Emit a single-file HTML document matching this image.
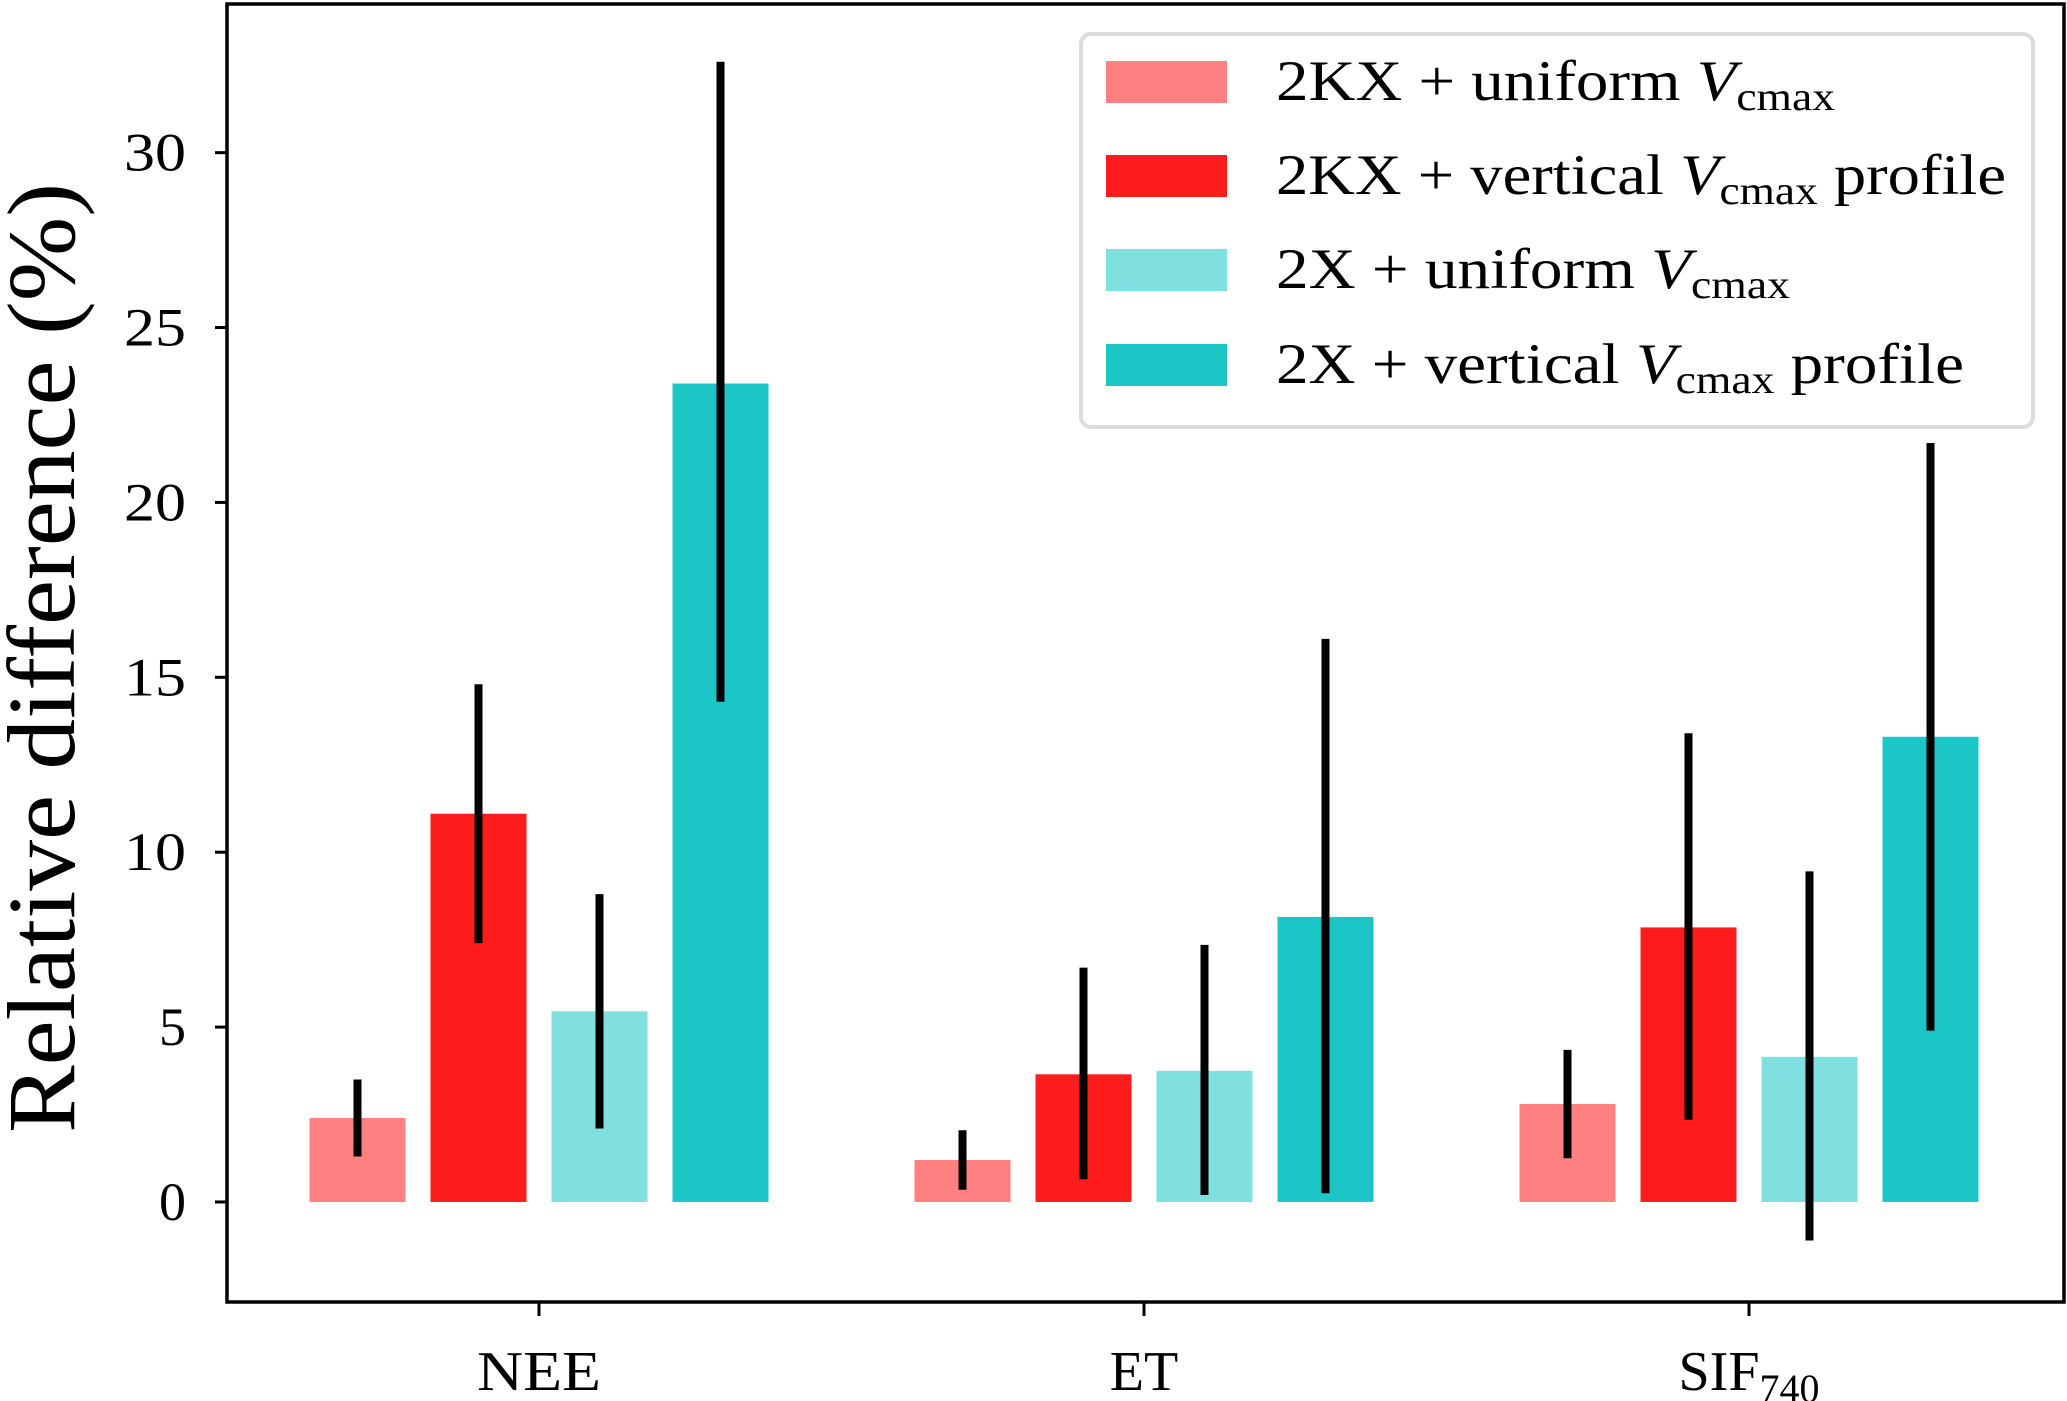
<!DOCTYPE html>
<html><head><meta charset="utf-8"><style>
html,body{margin:0;padding:0;background:#fff}
svg{display:block;font-family:"Liberation Serif","DejaVu Serif",serif}
</style></head><body>
<svg id="chart" width="2067" height="1401" viewBox="0 0 2067 1401"></svg>
<script>
const categories = ["NEE","ET","SIF"];
const seriesNames = ["2KX + uniform","2KX + vertical profile","2X + uniform","2X + vertical profile"];
const seriesColors = ["#ff8080","#ff1c1c","#80dfdf","#1cc6c6"];
const values = [[2.4,1.2,2.8],[11.1,3.65,7.85],[5.45,3.75,4.15],[23.4,8.15,13.3]];
const errLow = [[1.3,0.35,1.25],[7.4,0.65,2.35],[2.1,0.2,-1.1],[14.3,0.25,4.9]];
const errHigh = [[3.5,2.05,4.35],[14.8,6.7,13.4],[8.8,7.35,9.45],[32.6,16.1,21.7]];
const yTicks = [0,5,10,15,20,25,30];

const NS="http://www.w3.org/2000/svg";
const svg=document.getElementById('chart');
const L=227,R=2064,T=4,B=1302;
const yMin=-2.86,yMax=34.25;
function y(v){return B-(v-yMin)/(yMax-yMin)*(B-T);}
const catX=[539,1144,1749];
function x(ci,si){return catX[ci]+(si-1.5)*121;}
function mk(tag,attrs,parent){const e=document.createElementNS(NS,tag);for(const k in attrs)e.setAttribute(k,attrs[k]);(parent||svg).appendChild(e);return e;}

values.forEach((ser,si)=>{ser.forEach((v,ci)=>{
  const r=mk('rect',{x:x(ci,si)-48,y:Math.min(y(v),y(0)),width:96,height:Math.abs(y(0)-y(v)),fill:seriesColors[si]});
  
  
});});
values.forEach((ser,si)=>{ser.forEach((v,ci)=>{
  const l=mk('line',{x1:x(ci,si),x2:x(ci,si),y1:y(errLow[si][ci]),y2:y(errHigh[si][ci]),stroke:'#000','stroke-width':8});
  
  
});});
const fr=mk('rect',{x:L,y:T,width:R-L,height:B-T,fill:'none',stroke:'#000','stroke-width':3.5});


yTicks.forEach(t=>{
  const tl=mk('line',{x1:L-12,x2:L,y1:y(t),y2:y(t),stroke:'#000','stroke-width':3});
  
  
  const tx=mk('text',{x:186,y:y(t)+18,'text-anchor':'end','font-size':54,fill:'#000'});
  tx.textContent=t;
  if(t>=10){tx.setAttribute('textLength',62);tx.setAttribute('lengthAdjust','spacingAndGlyphs');}
  
  
});
catX.forEach((cx,ci)=>{
  const tl=mk('line',{x1:cx,x2:cx,y1:B,y2:B+14,stroke:'#000','stroke-width':3});
  
  
  const tx=mk('text',{x:cx,y:1390,'text-anchor':'middle','font-size':56,fill:'#000'});
  if(categories[ci]==='SIF'){tx.innerHTML='SIF<tspan font-size="40" dy="12">740</tspan>';}
  else {tx.textContent=categories[ci]; if(categories[ci]==='NEE'){tx.setAttribute('textLength',124);tx.setAttribute('lengthAdjust','spacingAndGlyphs');}}
  
  
});
const yl=mk('text',{x:0,y:0,'text-anchor':'middle','font-size':96,fill:'#000',transform:'translate(74,658) rotate(-90)',textLength:950,lengthAdjust:'spacingAndGlyphs'});
yl.textContent='Relative difference (%)';


const lg=mk('g',{});


mk('rect',{x:1081,y:34,width:952,height:393,rx:10,fill:'#fff','fill-opacity':0.85,stroke:'#dcdcdc','stroke-width':4},lg);
const labels=[
 '2KX + uniform <tspan font-style="italic">V</tspan><tspan font-size="40" dy="10">cmax</tspan>',
 '2KX + vertical <tspan font-style="italic">V</tspan><tspan font-size="40" dy="10">cmax</tspan><tspan dy="-10"> profile</tspan>',
 '2X + uniform <tspan font-style="italic">V</tspan><tspan font-size="40" dy="10">cmax</tspan>',
 '2X + vertical <tspan font-style="italic">V</tspan><tspan font-size="40" dy="10">cmax</tspan><tspan dy="-10"> profile</tspan>'];
const lw=[559,730,514,688];
[82,176,270,365].forEach((ly,i)=>{
  const g=mk('g',{},lg);
  
  
  mk('rect',{x:1106,y:ly-21,width:121,height:42,fill:seriesColors[i]},g);
  const t=mk('text',{x:1276,y:ly+18,'font-size':57,fill:'#000',textLength:lw[i],lengthAdjust:'spacingAndGlyphs'},g);
  t.innerHTML=labels[i];
});
</script>
</body></html>
